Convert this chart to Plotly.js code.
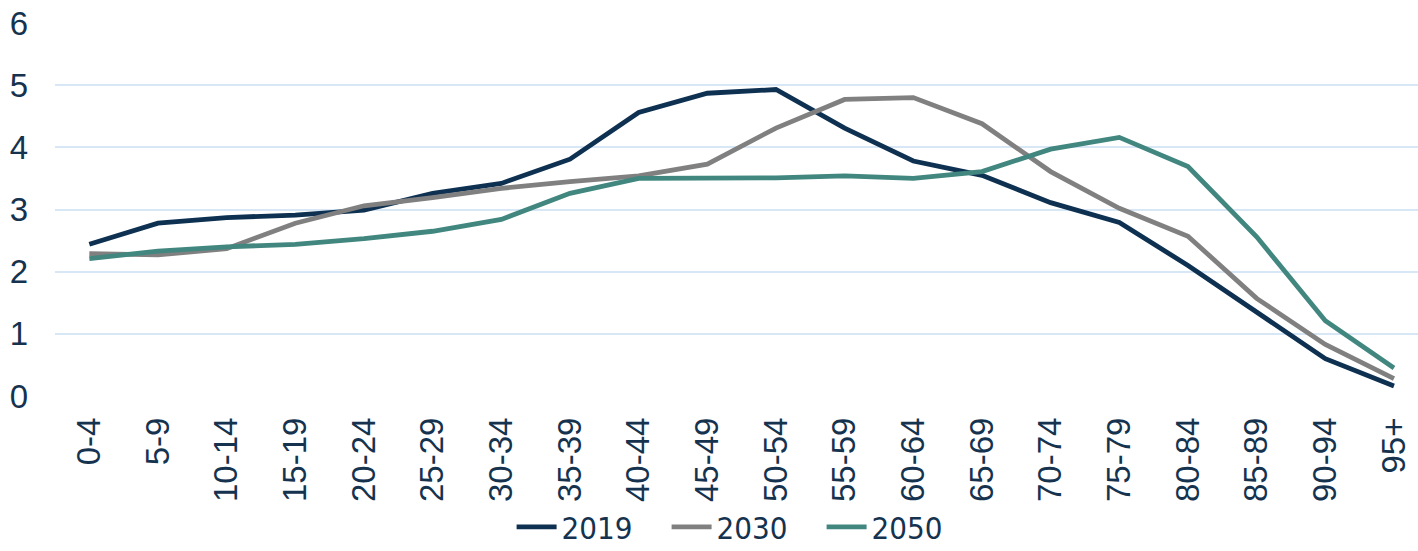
<!DOCTYPE html>
<html>
<head>
<meta charset="utf-8">
<script src="https://cdn.plot.ly/plotly-3.0.1.min.js"></script>
<style>
  html, body { margin: 0; padding: 0; background: #ffffff; }
  #chart { width: 1418px; height: 551px; }
</style>
</head>
<body>
<div id="chart"></div>
<script>
const ageGroups = ["0-4","5-9","10-14","15-19","20-24","25-29","30-34","35-39","40-44","45-49",
                   "50-54","55-59","60-64","65-69","70-74","75-79","80-84","85-89","90-94","95+"];
const values2019 = [2.44,2.78,2.87,2.91,2.99,3.26,3.42,3.81,4.56,4.87,4.93,4.31,3.78,3.55,3.11,2.79,2.10,1.35,0.60,0.16];
const values2030 = [2.29,2.27,2.37,2.78,3.06,3.19,3.34,3.45,3.54,3.73,4.31,4.77,4.80,4.38,3.61,3.02,2.57,1.57,0.83,0.28];
const values2050 = [2.21,2.33,2.40,2.44,2.53,2.65,2.84,3.26,3.50,3.50,3.51,3.54,3.50,3.61,3.97,4.16,3.69,2.56,1.21,0.45];
const seriesNames = ["2019","2030","2050"];
const yTicks = [0,1,2,3,4,5,6];

const colors = ["#0e3152", "#808080", "#41877f"];
const allValues = [values2019, values2030, values2050];

const traces = allValues.map((vals, i) => ({
  type: "scatter",
  mode: "lines",
  name: seriesNames[i],
  x: ageGroups,
  y: vals,
  line: { color: colors[i], width: 4.8 },
  hoverinfo: "skip"
}));

const textColor = "#15334f";
const tickFamily = "'Liberation Sans', Arial, sans-serif";
const layout = {
  width: 1418,
  height: 551,
  margin: { l: 55, r: 0, t: 23, b: 155, autoexpand: false },
  paper_bgcolor: "#ffffff",
  plot_bgcolor: "#ffffff",
  showlegend: true,
  font: { family: tickFamily, color: textColor, size: 30 },
  xaxis: {
    type: "category",
    range: [-0.5, 19.35],
    tickangle: -90,
    showgrid: false,
    zeroline: false,
    showline: false,
    ticks: "",
    ticklabelstandoff: 14,
    tickfont: { family: tickFamily, size: 33, color: textColor },
    fixedrange: true,
    automargin: false
  },
  yaxis: {
    range: [0, 6],
    tickvals: yTicks,
    ticktext: yTicks.map(String),
    showgrid: true,
    gridcolor: "#d8e7f5",
    gridwidth: 2,
    zeroline: false,
    showline: false,
    ticks: "",
    ticklabelstandoff: 26,
    tickfont: { family: tickFamily, size: 33, color: textColor },
    fixedrange: true,
    automargin: false
  },
  legend: {
    orientation: "h",
    x: 0.335,
    xanchor: "left",
    y: -0.352,
    yanchor: "middle",
    font: { family: "'Liberation Sans Narrow', 'DejaVu Sans Condensed', sans-serif", size: 31, color: textColor },
    itemwidth: 40,
    entrywidth: 100,
    entrywidthmode: "pixels",
    tracegroupgap: 0,
    bgcolor: "rgba(0,0,0,0)"
  }
};

Plotly.newPlot("chart", traces, layout, { displayModeBar: false, staticPlot: true });
</script>
</body>
</html>
